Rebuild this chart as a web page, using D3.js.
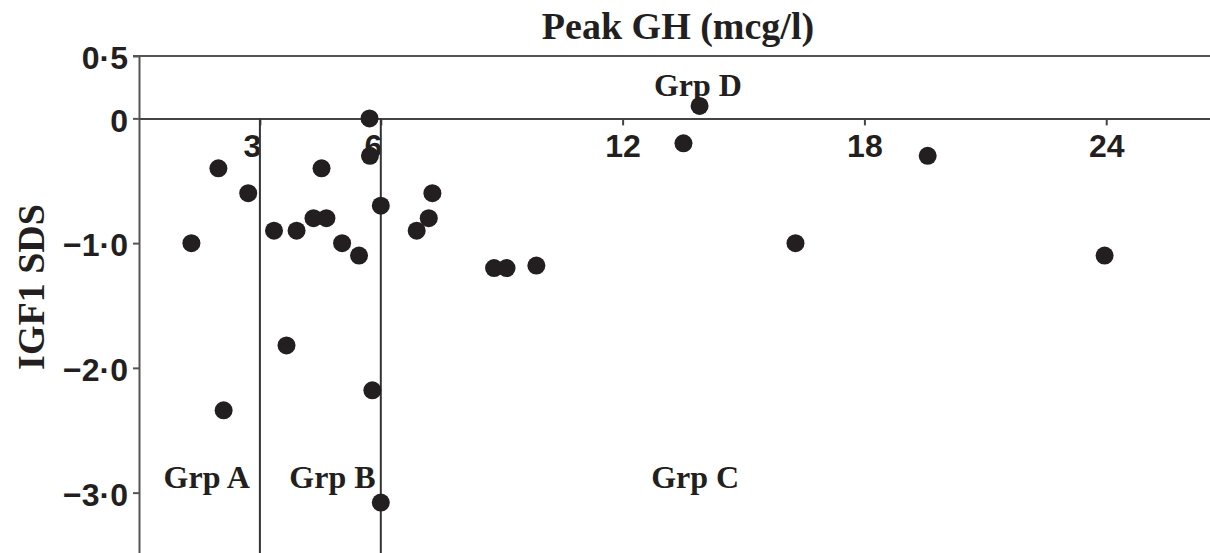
<!DOCTYPE html>
<html>
<head>
<meta charset="utf-8">
<script src="https://cdn.jsdelivr.net/npm/d3@7/dist/d3.min.js"></script>
<style>
  html, body { margin: 0; padding: 0; background: #fff; }
  svg { display: block; }
</style>
</head>
<body>
<div id="chart"></div>
<script>
// ---- data ----
const peakGH = [1.30, 1.97, 2.10, 2.71, 3.35, 3.66, 3.91, 4.33, 4.53, 4.65, 5.04, 5.46, 5.72, 5.73, 5.79, 6.00, 6.00, 6.89, 7.19, 7.28, 8.81, 9.12, 9.86, 13.51, 13.91, 16.29, 19.57, 23.96];
const igf1SDS = [-1.00, -0.40, -2.34, -0.60, -0.90, -1.82, -0.90, -0.80, -0.40, -0.80, -1.00, -1.10, 0.00, -0.30, -2.18, -0.70, -3.08, -0.90, -0.80, -0.60, -1.20, -1.20, -1.18, -0.20, 0.10, -1.00, -0.30, -1.10];
const xTickValues = [3, 6, 12, 18, 24];
const xTickLabels = ["3", "6", "12", "18", "24"];
const yTickValues = [0.5, 0, -1, -2, -3];
const yTickLabels = ["0\u00b75", "0", "\u22121\u00b70", "\u22122\u00b70", "\u22123\u00b70"];
const groupCutoffs = [3, 6];
const groupNames = ["Grp A", "Grp B", "Grp C", "Grp D"];
const groupLabelX = [1.68, 4.80, 13.80, 13.87];
const groupLabelY = [-2.96, -2.96, -2.96, 0.18];
const xTitle = "Peak GH (mcg/l)";
const yTitle = "IGF1 SDS";

// ---- layout ----
const W = 1210, H = 553;
const ink = "#231f20";
const serif = "'Liberation Serif', 'Times New Roman', serif";
const sans = "'Liberation Sans', Arial, sans-serif";

const svg = d3.select("#chart").append("svg").attr("width", W).attr("height", H);

const x = d3.scaleLinear().domain([0, 26.6]).range([139, 1211]);
const y = d3.scaleLinear().domain([-3.5, 0.5]).range([555, 56]);

// top border line at y = 0.5
svg.append("line")
  .attr("x1", x(0) - 6).attr("x2", W)
  .attr("y1", y(0.5)).attr("y2", y(0.5))
  .attr("stroke", "#555").attr("stroke-width", 2);

// y axis
const yAxis = svg.append("g")
  .attr("transform", `translate(${x(0)},0)`)
  .call(d3.axisLeft(y).tickValues(yTickValues)
    .tickFormat((d, i) => yTickLabels[i]).tickSize(6).tickSizeOuter(0).tickPadding(5));
yAxis.select(".domain").attr("stroke", "#555").attr("stroke-width", 2);
yAxis.selectAll(".tick line").attr("stroke", "#555").attr("stroke-width", 2);
yAxis.selectAll(".tick text")
  .attr("font-family", sans).attr("font-weight", "bold").attr("font-size", 32)
  .attr("fill", ink).attr("dy", "0.40em");

// x axis along y = 0
const xAxis = svg.append("g")
  .attr("transform", `translate(0,${y(0)})`)
  .call(d3.axisBottom(x).tickValues(xTickValues)
    .tickFormat((d, i) => xTickLabels[i]).tickSize(7).tickSizeOuter(0));
xAxis.select(".domain").attr("stroke", "#444").attr("stroke-width", 2);
xAxis.selectAll(".tick line").attr("stroke", "#444").attr("stroke-width", 2);
xAxis.selectAll(".tick text")
  .attr("font-family", sans).attr("font-weight", "bold").attr("font-size", 32)
  .attr("fill", ink).attr("y", 39).attr("dy", 0)
  .attr("dx", d => groupCutoffs.includes(d) ? -8 : 0);

// group boundary lines
svg.selectAll("line.cut").data(groupCutoffs).enter().append("line")
  .attr("class", "cut")
  .attr("x1", d => x(d)).attr("x2", d => x(d))
  .attr("y1", y(0)).attr("y2", y(-3.5))
  .attr("stroke", "#333").attr("stroke-width", 2);

// group labels
svg.selectAll("text.grp").data(groupNames).enter().append("text")
  .attr("class", "grp")
  .attr("x", (d, i) => x(groupLabelX[i]))
  .attr("y", (d, i) => y(groupLabelY[i]))
  .attr("text-anchor", "middle")
  .attr("font-family", serif).attr("font-weight", "bold").attr("font-size", 32)
  .attr("fill", ink)
  .text(d => d);

// points
svg.selectAll("circle.pt").data(peakGH).enter().append("circle")
  .attr("class", "pt")
  .attr("cx", d => x(d))
  .attr("cy", (d, i) => y(igf1SDS[i]))
  .attr("r", 9)
  .attr("fill", ink);

// titles
svg.append("text")
  .attr("x", 678).attr("y", 39)
  .attr("text-anchor", "middle")
  .attr("font-family", serif).attr("font-weight", "bold").attr("font-size", 38)
  .attr("fill", ink)
  .text(xTitle);

svg.append("text")
  .attr("transform", "translate(44,287) rotate(-90)")
  .attr("text-anchor", "middle")
  .attr("font-family", serif).attr("font-weight", "bold").attr("font-size", 38)
  .attr("fill", ink)
  .text(yTitle);
</script>
</body>
</html>
